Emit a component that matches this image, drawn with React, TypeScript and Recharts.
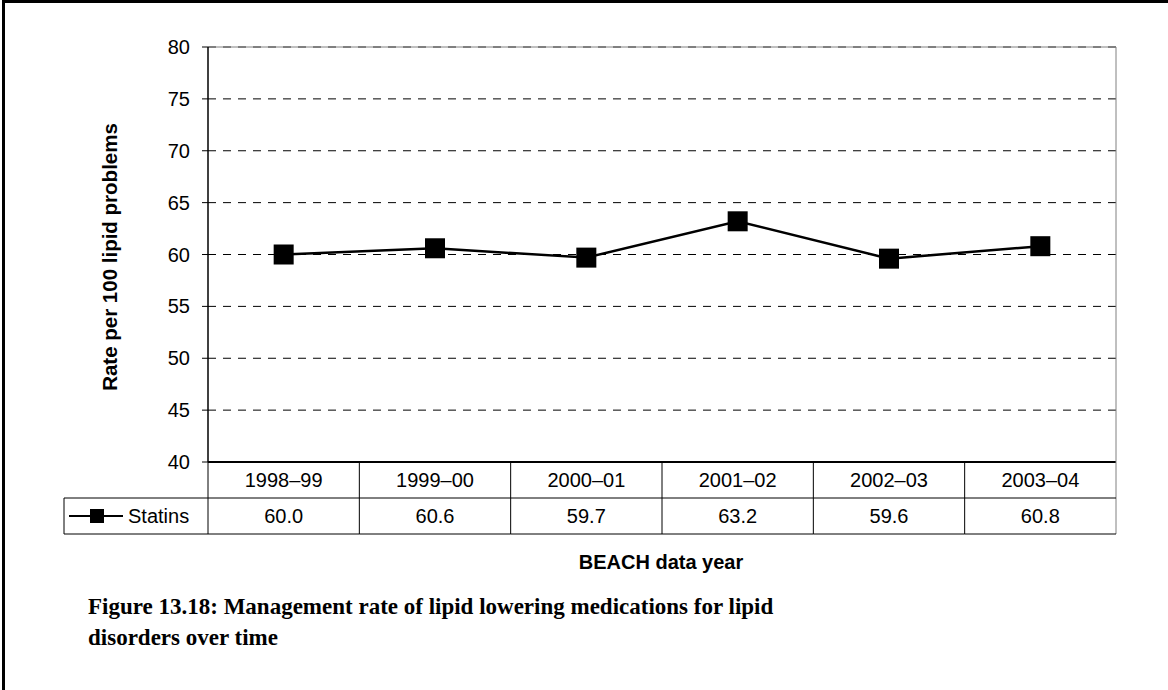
import React from 'react';
import { LineChart, Line, XAxis, YAxis, CartesianGrid, ReferenceLine } from 'recharts';

const years = ['1998–99', '1999–00', '2000–01', '2001–02', '2002–03', '2003–04'];
const statins = [60.0, 60.6, 59.7, 63.2, 59.6, 60.8];
const yTicks = [40, 45, 50, 55, 60, 65, 70, 75, 80];

const data = years.map((year, i) => ({ year, statins: statins[i] }));

const W = 1168;
const H = 690;
const PLOT_LEFT = 208;
const PLOT_RIGHT = 1116;
const PLOT_BOTTOM = 462;
const ROW1 = 498;
const ROW2 = 534;
const BAND = (PLOT_RIGHT - PLOT_LEFT) / years.length;
const SANS = 'Arial, "Liberation Sans", sans-serif';
const SERIF = '"Book Antiqua", Palatino, "Liberation Serif", serif';

// square marker like the old Excel style
const SquareDot = (props: any) => {
  const { cx, cy } = props;
  if (cx == null || cy == null) return null;
  return <rect x={cx - 10} y={cy - 10} width={20} height={20} fill="#000" />;
};

// each x tick draws its column of the data table under the plot
const TableTick = (props: any) => {
  const { x, payload } = props;
  const idx = years.indexOf(payload.value);
  const left = x - BAND / 2;
  const right = x + BAND / 2;
  const last = idx === years.length - 1;
  return (
    <g>
      {idx === 0 && (
        <g>
          <line x1={left} y1={PLOT_BOTTOM} x2={left} y2={ROW2} stroke="#000" />
          <line x1={64} y1={ROW1} x2={left} y2={ROW1} stroke="#000" />
          <line x1={64} y1={ROW2} x2={left} y2={ROW2} stroke="#000" />
          <line x1={64} y1={ROW1} x2={64} y2={ROW2} stroke="#000" />
          <line x1={69} y1={(ROW1 + ROW2) / 2} x2={123} y2={(ROW1 + ROW2) / 2} stroke="#000" strokeWidth={2} />
          <rect x={90} y={(ROW1 + ROW2) / 2 - 7} width={14} height={14} fill="#000" />
          <text x={128} y={(ROW1 + ROW2) / 2} dy="0.36em" fontSize={20} fontFamily={SANS} fill="#000">
            Statins
          </text>
        </g>
      )}
      <line x1={right} y1={PLOT_BOTTOM} x2={right} y2={ROW2} stroke={last ? '#808080' : '#000'} />
      <line x1={left} y1={ROW1} x2={right} y2={ROW1} stroke="#000" />
      <line x1={left} y1={ROW2} x2={right} y2={ROW2} stroke="#000" />
      <text x={x} y={(PLOT_BOTTOM + ROW1) / 2} dy="0.36em" textAnchor="middle" fontSize={20} fontFamily={SANS} fill="#000">
        {payload.value}
      </text>
      <text x={x} y={(ROW1 + ROW2) / 2} dy="0.36em" textAnchor="middle" fontSize={20} fontFamily={SANS} fill="#000">
        {statins[idx].toFixed(1)}
      </text>
    </g>
  );
};

export default function App() {
  return (
    <div style={{ position: 'absolute', left: 0, top: 0, width: W, height: H, background: '#fff' }}>
      <div
        style={{
          position: 'absolute',
          left: 2,
          top: 0,
          width: W - 2,
          height: H,
          borderLeft: '3px solid #000',
          borderTop: '3px solid #000',
          boxSizing: 'border-box',
        }}
      />
      <LineChart width={W} height={H} data={data} margin={{ top: 47, right: 51, left: 148, bottom: 148 }}>
        <CartesianGrid vertical={false} stroke="#000" strokeDasharray="8 7" />
        <ReferenceLine y={80} stroke="#808080" />
        <XAxis
          dataKey="year"
          scale="band"
          height={80}
          interval={0}
          axisLine={{ stroke: '#000', strokeWidth: 2 }}
          tickLine={false}
          tick={<TableTick />}
        />
        <YAxis
          domain={[40, 80]}
          ticks={yTicks}
          width={60}
          tickSize={6}
          tickMargin={12}
          axisLine={{ stroke: '#000', strokeWidth: 1.5 }}
          tickLine={{ stroke: '#000' }}
          tick={{ fontSize: 20, fontFamily: SANS, fill: '#000' }}
        />
        <YAxis
          yAxisId="r"
          orientation="right"
          domain={[40, 80]}
          width={1}
          tick={false}
          tickLine={false}
          axisLine={{ stroke: '#808080' }}
        />
        <Line
          dataKey="statins"
          stroke="#000"
          strokeWidth={2.5}
          dot={<SquareDot />}
          activeDot={false}
          isAnimationActive={false}
        />
      </LineChart>
      <div
        style={{
          position: 'absolute',
          left: 110,
          top: 257,
          transform: 'translate(-50%, -50%) rotate(-90deg)',
          whiteSpace: 'nowrap',
          fontFamily: SANS,
          fontWeight: 'bold',
          fontSize: 20.5,
        }}
      >
        Rate per 100 lipid problems
      </div>
      <div
        style={{
          position: 'absolute',
          left: 661,
          top: 562,
          transform: 'translate(-50%, -50%)',
          whiteSpace: 'nowrap',
          fontFamily: SANS,
          fontWeight: 'bold',
          fontSize: 20,
        }}
      >
        BEACH data year
      </div>
      <div
        style={{
          position: 'absolute',
          left: 88,
          top: 591,
          width: 800,
          fontFamily: SERIF,
          fontWeight: 'bold',
          fontSize: 23,
          lineHeight: '31px',
        }}
      >
        Figure 13.18: Management rate of lipid lowering medications for lipid
        <br />
        disorders over time
      </div>
    </div>
  );
}
